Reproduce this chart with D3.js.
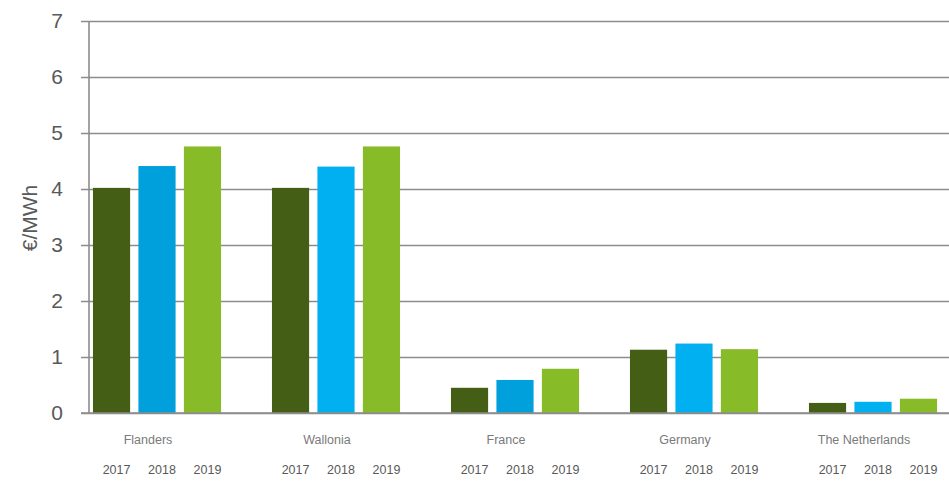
<!DOCTYPE html>
<html><head><meta charset="utf-8">
<script src="https://cdn.jsdelivr.net/npm/d3@7"></script>
<style>body{margin:0;background:#fff}svg{display:block}</style>
</head><body><svg id="c" width="949" height="484"></svg>
<script>
const countries = ["Flanders","Wallonia","France","Germany","The Netherlands"];
const years = ["2017","2018","2019"];
const v2017 = [4.02, 4.02, 0.45, 1.13, 0.18];
const v2018 = [4.41, 4.40, 0.59, 1.24, 0.20];
const v2019 = [4.76, 4.76, 0.79, 1.14, 0.255];
const yTicks = [0,1,2,3,4,5,6,7];
const yearColors = ["#445e15", "#00a0dc", "#88bb28"];
const blue2018 = ["#00a0dc", "#00b0f0", "#00a0dc", "#00b0f0", "#00b0f0"];
const yLabel = "€/MWh";

const series = [v2017, v2018, v2019];
const svg = d3.select("#c");
const y = d3.scaleLinear().domain([0,7]).range([413,21]);
const x0 = d3.scaleBand().domain(countries).range([67.5, 67.5+5*179]).paddingInner(0).paddingOuter(0);
const x1 = d3.scaleBand().domain(years).range([0, x0.bandwidth()]).paddingInner(0.183).paddingOuter(0.56);

// gridlines + ticks
const yAxis = d3.axisLeft(y).tickValues(yTicks).tickFormat(d3.format("d")).tickSize(-(949-81)).tickSizeOuter(0).tickPadding(18);
const ga = svg.append("g").attr("transform","translate(81,0)").call(yAxis);
ga.select(".domain").remove();
ga.selectAll(".tick line").attr("stroke","#8c8c8c").attr("stroke-width",1.6);
ga.selectAll(".tick text").attr("fill","#595959").attr("font-size",21).attr("font-family","Liberation Sans, Arial, sans-serif");

// bars
countries.forEach((c,i)=>{
  years.forEach((yr,j)=>{
    const val = series[j][i];
    svg.append("rect")
      .attr("x", x0(c)+x1(yr))
      .attr("y", y(val))
      .attr("width", x1.bandwidth())
      .attr("height", y(0)-y(val))
      .attr("fill", j===1 ? blue2018[i] : yearColors[j]);
  });
});

// axis lines
svg.append("line").attr("x1",89).attr("x2",89).attr("y1",y(7)).attr("y2",y(0)).attr("stroke","#8c8c8c").attr("stroke-width",1.6);
svg.append("line").attr("x1",81).attr("x2",949).attr("y1",y(0)).attr("y2",y(0)).attr("stroke","#8c8c8c").attr("stroke-width",1.6);

// category labels
svg.selectAll(".cl").data(countries).enter().append("text")
  .attr("x", d=>x0(d)+x0.bandwidth()/2-9)
  .attr("y", 444)
  .attr("text-anchor","middle")
  .attr("font-size",12.5).attr("font-family","Liberation Sans Narrow, Liberation Sans, Arial, sans-serif")
  .attr("fill","#7a7a7a").text(d=>d);
countries.forEach(c=>{
  years.forEach(yr=>{
    svg.append("text")
      .attr("x", x0(c)+x1(yr)+x1.bandwidth()/2+5)
      .attr("y", 474)
      .attr("text-anchor","middle")
      .attr("font-size",12.5).attr("font-family","Liberation Sans Narrow, Liberation Sans, Arial, sans-serif")
      .attr("fill","#595959").text(yr);
  });
});

// y label
svg.append("text").attr("transform","translate(37,218) rotate(-90)")
  .attr("text-anchor","middle").attr("font-size",21)
  .attr("font-family","Liberation Sans, Arial, sans-serif").attr("fill","#595959").text(yLabel);
</script></body></html>
